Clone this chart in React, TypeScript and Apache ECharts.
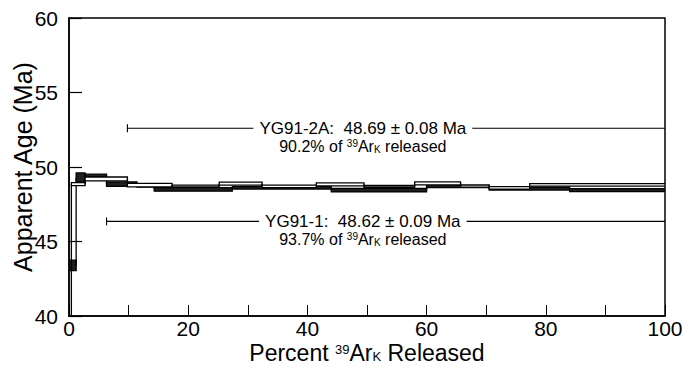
import React, { useEffect, useRef } from 'react';
import * as echarts from 'echarts';

// ---- Data ----
// YG91-2A (open boxes): step edges in cumulative % 39ArK, apparent ages and 2-sigma half-heights (Ma)
const yg2aEdges = [0, 0.4, 2.7, 9.8, 17.3, 25.2, 32.4, 41.5, 49.5, 58.0, 65.7, 70.5, 77.3, 100];
const yg2aAges = [35.0, 48.85, 49.2, 48.78, 48.72, 48.88, 48.7, 48.83, 48.7, 48.9, 48.72, 48.6, 48.8];
const yg2aErrs = [0.5, 0.1, 0.13, 0.12, 0.06, 0.1, 0.08, 0.1, 0.06, 0.1, 0.07, 0.08, 0.08];

// YG91-1 (filled boxes)
const yg1Edges = [0, 1.2, 2.7, 6.3, 11.4, 14.3, 27.4, 44.0, 60.0, 70.5, 84.0, 100];
const yg1Ages = [43.4, 49.3, 49.42, 48.85, 48.75, 48.5, 48.6, 48.45, 48.7, 48.55, 48.45];
const yg1Errs = [0.35, 0.3, 0.1, 0.15, 0.1, 0.12, 0.08, 0.12, 0.08, 0.1, 0.1];

// Plateau results
const plateauNames = ['YG91-2A', 'YG91-1'];
const plateauAges = [48.69, 48.62];
const plateauErrs = [0.08, 0.09];
const plateauFractions = [90.2, 93.7];

// Axis ticks
const yTickValues = [40, 45, 50, 55, 60];
const xTickValues = [0, 20, 40, 60, 80, 100];

// ---- Layout constants (label placement, not data) ----
const plateauLabelAges = [52.6, 46.35];
const plateauTextCenter = 49.3;

const FONT = '"Liberation Sans", Arial, Helvetica, sans-serif';

function toSteps(edges: number[], ages: number[], errs: number[]) {
  return ages.map((a, i) => [edges[i], edges[i + 1], a, errs[i], i > 0 ? ages[i - 1] : NaN]);
}

function stepRenderer(fill: string) {
  return (params: any, api: any) => {
    const s = api.value(0);
    const e = api.value(1);
    const a = api.value(2);
    const er = api.value(3);
    const prev = api.value(4);
    const tl = api.coord([s, a + er]);
    const br = api.coord([e, a - er]);
    const children: any[] = [];
    if (!isNaN(prev)) {
      const p0 = api.coord([s, prev]);
      const p1 = api.coord([s, a]);
      children.push({
        type: 'line',
        shape: { x1: p0[0], y1: p0[1], x2: p1[0], y2: p1[1] },
        style: { stroke: '#000', lineWidth: 1.3 },
      });
    }
    children.push({
      type: 'rect',
      shape: { x: tl[0], y: tl[1], width: br[0] - tl[0], height: br[1] - tl[1] },
      style: { fill, stroke: '#000', lineWidth: 1.3 },
    });
    return { type: 'group', children };
  };
}

export default function App() {
  const ref = useRef<HTMLDivElement>(null);

  useEffect(() => {
    const chart = echarts.init(ref.current!, null, { renderer: 'svg' });

    const plateauData = plateauNames.map((_, i) => [100 - plateauFractions[i], plateauLabelAges[i]]);

    const option: any = {
      animation: false,
      backgroundColor: '#fff',
      textStyle: { fontFamily: FONT },
      grid: {
        left: 69,
        right: 19,
        top: 18,
        bottom: 50,
        containLabel: false,
        outerBoundsMode: 'none',
        show: true,
        borderColor: '#000',
        borderWidth: 1.5,
        backgroundColor: 'transparent',
      },
      xAxis: {
        type: 'value',
        min: xTickValues[0],
        max: xTickValues[xTickValues.length - 1],
        interval: 20,
        name: '{n|Percent }{sup|39}{n|Ar}{sub|K}{n| Released}',
        nameLocation: 'middle',
        nameGap: 27,
        nameMoveOverlap: false,
        nameTextStyle: {
          color: '#000',
          fontFamily: FONT,
          lineHeight: 20,
          rich: {
            n: { fontSize: 23, lineHeight: 20, fontFamily: FONT, color: '#000' },
            sup: { fontSize: 13, lineHeight: 14, verticalAlign: 'top', fontFamily: FONT, color: '#000' },
            sub: { fontSize: 13, lineHeight: 8, verticalAlign: 'bottom', fontFamily: FONT, color: '#000' },
          },
        },
        axisLine: { show: true, lineStyle: { color: '#000', width: 1.5 } },
        axisTick: { show: true, inside: true, length: 11, lineStyle: { color: '#000', width: 1 } },
        minorTick: { show: true, splitNumber: 2, length: 11, lineStyle: { color: '#000', width: 1 } },
        splitLine: { show: false },
        minorSplitLine: { show: false },
        axisLabel: { color: '#000', fontSize: 21, fontFamily: FONT, margin: 2 },
      },
      yAxis: {
        type: 'value',
        min: yTickValues[0],
        max: yTickValues[yTickValues.length - 1],
        interval: 5,
        name: 'Apparent Age (Ma)',
        nameLocation: 'middle',
        nameRotate: 90,
        nameGap: 34,
        nameMoveOverlap: false,
        nameTextStyle: { color: '#000', fontSize: 25, fontFamily: FONT },
        axisLine: { show: true, lineStyle: { color: '#000', width: 1.5 } },
        axisTick: { show: true, inside: true, length: 13, lineStyle: { color: '#000', width: 1.2 } },
        splitLine: { show: false },
        axisLabel: { color: '#000', fontSize: 21, fontFamily: FONT, margin: 11 },
      },
      series: [
        {
          type: 'custom',
          name: 'YG91-1',
          clip: true,
          data: toSteps(yg1Edges, yg1Ages, yg1Errs),
          encode: { x: [0, 1], y: 2 },
          renderItem: stepRenderer('#1e1e1e'),
          z: 2,
        },
        {
          type: 'custom',
          name: 'YG91-2A',
          clip: true,
          data: toSteps(yg2aEdges, yg2aAges, yg2aErrs),
          encode: { x: [0, 1], y: 2 },
          renderItem: stepRenderer('#ffffff'),
          z: 3,
        },
        {
          type: 'custom',
          name: 'plateaus',
          clip: false,
          data: plateauData,
          encode: { x: 0, y: 1 },
          z: 4,
          renderItem: (params: any, api: any) => {
            const i = params.dataIndex;
            const start = api.value(0);
            const yAge = api.value(1);
            const p0 = api.coord([start, yAge]);
            const p1 = api.coord([100, yAge]);
            const pc = api.coord([plateauTextCenter, yAge]);
            const mainText = `${plateauNames[i]}:  ${plateauAges[i].toFixed(2)} ± ${plateauErrs[i].toFixed(2)} Ma`;
            const subText = `{n|${plateauFractions[i].toFixed(1)}% of }{sup|39}{n|Ar}{sub|K}{n| released}`;
            return {
              type: 'group',
              children: [
                {
                  type: 'line',
                  shape: { x1: p0[0], y1: p0[1], x2: p1[0], y2: p1[1] },
                  style: { stroke: '#000', lineWidth: 1.1 },
                },
                {
                  type: 'line',
                  shape: { x1: p0[0], y1: p0[1] - 4, x2: p0[0], y2: p0[1] + 4 },
                  style: { stroke: '#000', lineWidth: 1.1 },
                },
                {
                  type: 'text',
                  x: pc[0],
                  y: pc[1],
                  style: {
                    text: mainText,
                    fontSize: 17,
                    fontFamily: FONT,
                    fill: '#000',
                    align: 'center',
                    verticalAlign: 'middle',
                    backgroundColor: '#fff',
                    padding: [0, 6],
                  },
                },
                {
                  type: 'text',
                  x: pc[0],
                  y: pc[1] + 18,
                  style: {
                    text: subText,
                    fontFamily: FONT,
                    fill: '#000',
                    align: 'center',
                    verticalAlign: 'middle',
                    rich: {
                      n: { fontSize: 16, lineHeight: 16, fontFamily: FONT, fill: '#000' },
                      sup: { fontSize: 10, lineHeight: 13, verticalAlign: 'top', fontFamily: FONT, fill: '#000' },
                      sub: { fontSize: 10, lineHeight: 8, verticalAlign: 'bottom', fontFamily: FONT, fill: '#000' },
                    },
                  },
                },
              ],
            };
          },
        },
      ],
    };

    chart.setOption(option);
    return () => chart.dispose();
  }, []);

  return (
    <div
      ref={ref}
      style={{ position: 'absolute', left: 0, top: 0, width: 684, height: 366, background: '#fff' }}
    />
  );
}
